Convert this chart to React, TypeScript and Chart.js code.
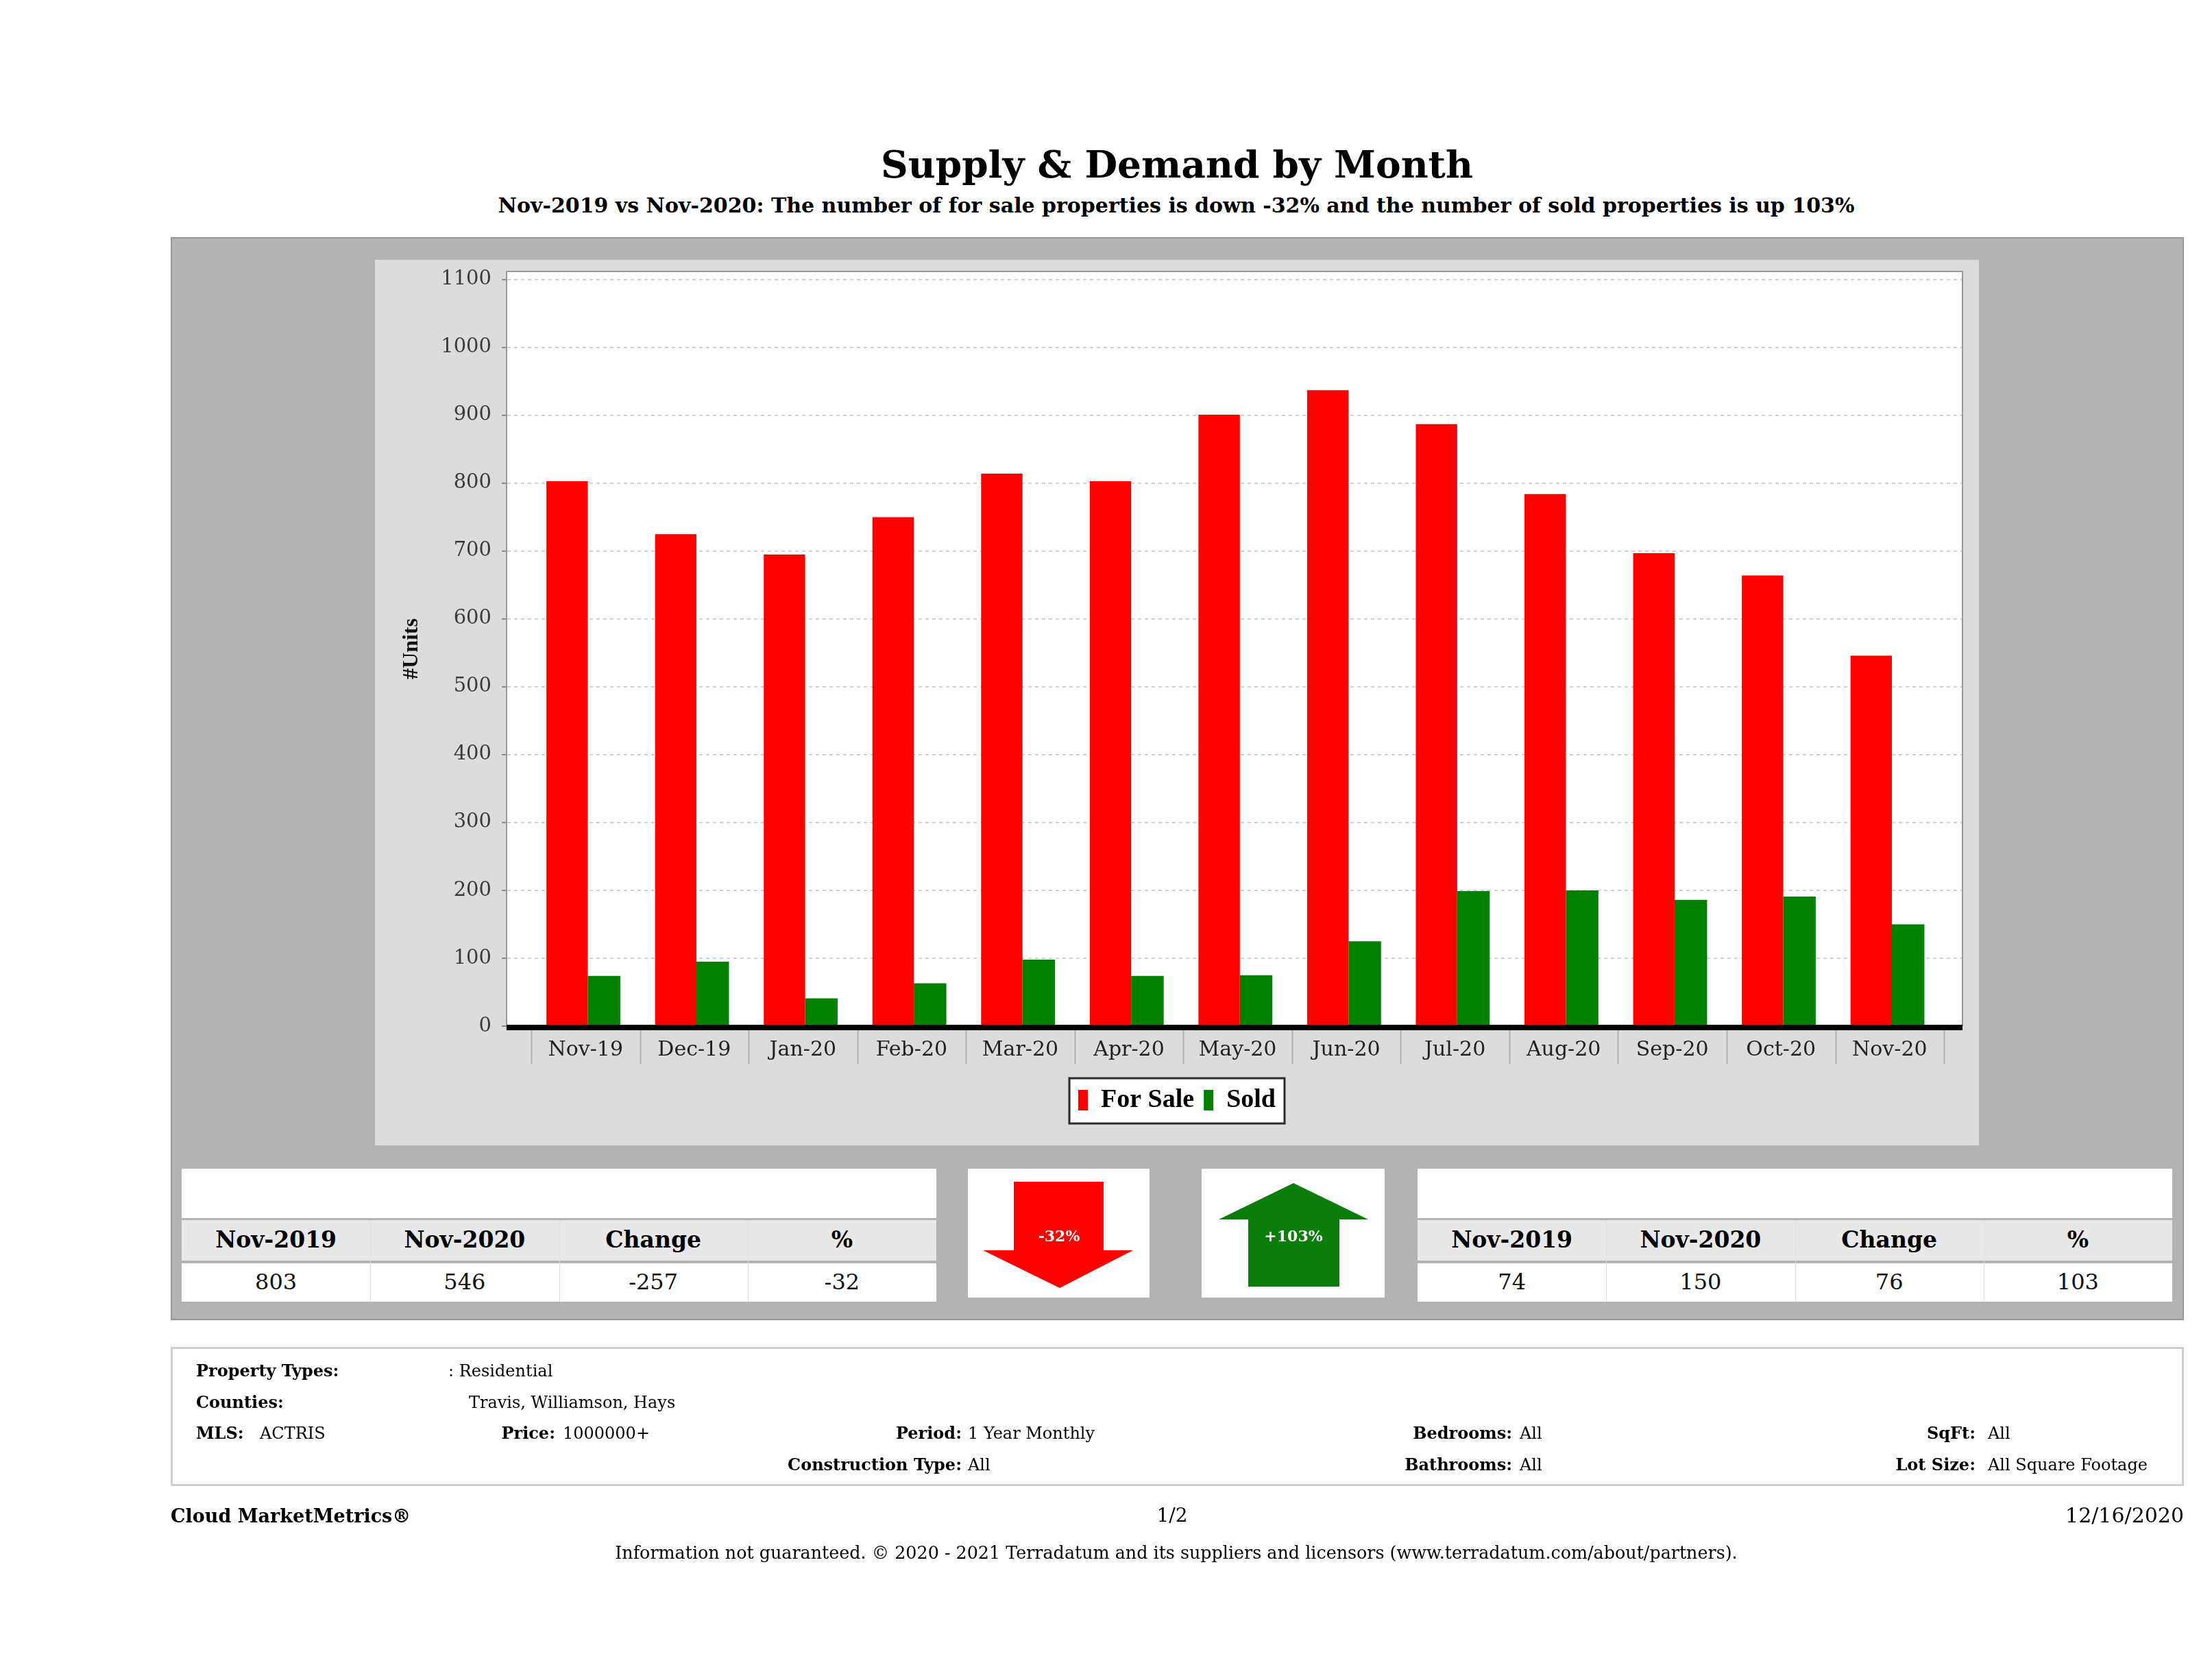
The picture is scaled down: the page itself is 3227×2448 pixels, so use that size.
import React, { useEffect, useRef } from "react";
import { Chart, registerables } from "chart.js";

Chart.register(...registerables);

// ---------- data ----------
const categories = ["Nov-19", "Dec-19", "Jan-20", "Feb-20", "Mar-20", "Apr-20", "May-20", "Jun-20", "Jul-20", "Aug-20", "Sep-20", "Oct-20", "Nov-20"];
const forSale = [803, 725, 695, 750, 814, 803, 901, 937, 887, 784, 697, 664, 546];
const sold = [74, 95, 41, 63, 98, 74, 75, 125, 199, 200, 186, 191, 150];
const seriesNames = ["For Sale", "Sold"];
const seriesColors = ["#ff0000", "#008000"];
const yStep = 100;
const yMax = 1112;

const summaryHeaders = ["Nov-2019", "Nov-2020", "Change", "%"];
const forSaleSummary = ["803", "546", "-257", "-32"];
const soldSummary = ["74", "150", "76", "103"];
const forSaleChangeLabel = "-32%";
const soldChangeLabel = "+103%";

// ---------- helpers ----------
function T(props: any) {
  const { x, y, size, bold = false, align = "left", color = "#000", family = "'DejaVu Serif', serif", children } = props;
  const style: any = {
    position: "absolute",
    top: y - 0.846 * size,
    fontSize: size,
    lineHeight: `${size}px`,
    fontWeight: bold ? 700 : 400,
    color,
    fontFamily: family,
    whiteSpace: "nowrap",
  };
  if (align === "left") style.left = x;
  else if (align === "center") {
    style.left = x - 2000;
    style.width = 4000;
    style.textAlign = "center";
  } else {
    style.left = x - 4000;
    style.width = 4000;
    style.textAlign = "right";
  }
  return <div style={style}>{children}</div>;
}

function Box(props: any) {
  const { x, y, w, h, bg, border } = props;
  return (
    <div
      style={{
        position: "absolute",
        left: x,
        top: y,
        width: w,
        height: h,
        background: bg,
        border: border || "none",
        boxSizing: "border-box",
      }}
    />
  );
}

function SummaryTable(props: any) {
  const { x0, x1, values } = props;
  const W = x1 - x0;
  const colW = W / 4;
  return (
    <>
      <Box x={x0} y={1705} w={W} h={72} bg="#fff" />
      <Box x={x0} y={1780} w={W} h={59} bg="#e8e8e8" />
      <Box x={x0} y={1843} w={W} h={56} bg="#fff" />
      {[1, 2, 3].map((c) => (
        <Box key={"d" + c} x={x0 + c * colW} y={1780} w={1} h={119} bg="#dedede" />
      ))}
      {summaryHeaders.map((h, i) => (
        <T key={"h" + i} x={x0 + colW * (i + 0.5)} y={1820} size={33} bold align="center">
          {h}
        </T>
      ))}
      {values.map((v: string, i: number) => (
        <T key={"v" + i} x={x0 + colW * (i + 0.5)} y={1881} size={32} align="center" color="#111">
          {v}
        </T>
      ))}
    </>
  );
}

// ---------- chart ----------
const CW = 2340;
const CH = 1292;

function SupplyDemandChart() {
  const ref = useRef<HTMLCanvasElement | null>(null);
  useEffect(() => {
    const canvas = ref.current;
    if (!canvas) return;

    const framePlugin = {
      id: "framePlugin",
      beforeDraw(chart: any) {
        const { ctx, chartArea: a } = chart;
        ctx.save();
        ctx.fillStyle = "#dcdcdc";
        ctx.fillRect(0, 0, chart.width, chart.height);
        ctx.fillStyle = "#ffffff";
        ctx.fillRect(a.left, a.top, a.right - a.left, a.bottom - a.top);
        const lg = chart.legend;
        if (lg && lg.legendHitBoxes && lg.legendHitBoxes.length) {
          const hb = lg.legendHitBoxes;
          const last = hb[hb.length - 1];
          const l = hb[0].left - 13;
          const r = last.left + last.width + 13;
          const t = hb[0].top - 13;
          const b = hb[0].top + hb[0].height + 15;
          ctx.fillStyle = "#ffffff";
          ctx.fillRect(l, t, r - l, b - t);
          ctx.strokeStyle = "#2a2a2a";
          ctx.lineWidth = 3;
          ctx.strokeRect(l, t, r - l, b - t);
        }
        ctx.restore();
      },
      afterDatasetsDraw(chart: any) {
        const { ctx, chartArea: a } = chart;
        const xs = chart.scales.x;
        ctx.save();
        ctx.strokeStyle = "#9a9a9a";
        ctx.lineWidth = 2;
        ctx.beginPath();
        ctx.moveTo(a.left, a.top);
        ctx.lineTo(a.right, a.top);
        ctx.lineTo(a.right, a.bottom);
        ctx.stroke();
        // category separators below the axis
        ctx.strokeStyle = "#b0b0b0";
        ctx.lineWidth = 2;
        for (let i = 0; i <= categories.length; i++) {
          const px = Math.round(xs.getPixelForValue(i - 0.5)) + 0.5;
          ctx.beginPath();
          ctx.moveTo(px, a.bottom + 6);
          ctx.lineTo(px, a.bottom + 55);
          ctx.stroke();
        }
        // thick black axis line
        ctx.strokeStyle = "#000";
        ctx.lineWidth = 8;
        ctx.beginPath();
        ctx.moveTo(a.left, a.bottom + 2);
        ctx.lineTo(a.right, a.bottom + 2);
        ctx.stroke();
        ctx.restore();
      },
    };

    const chart = new Chart(canvas, {
      type: "bar",
      data: {
        datasets: [
          {
            label: seriesNames[0],
            data: forSale.map((v, i) => ({ x: i, y: v })),
            backgroundColor: seriesColors[0],
            borderWidth: 0,
            categoryPercentage: 0.68,
            barPercentage: 1.12,
          },
          {
            label: seriesNames[1],
            data: sold.map((v, i) => ({ x: i, y: v })),
            backgroundColor: seriesColors[1],
            borderWidth: 0,
            categoryPercentage: 0.68,
            barPercentage: 0.88,
          },
        ],
      },
      options: {
        responsive: false,
        maintainAspectRatio: false,
        animation: false,
        devicePixelRatio: 1,
        layout: { padding: { left: 24, right: 24, top: 17, bottom: 37 } },
        scales: {
          x: {
            type: "linear",
            min: -0.727,
            max: 12.67,
            offset: false,
            afterBuildTicks: (s: any) => {
              s.ticks = categories.map((_, i) => ({ value: i }));
            },
            afterFit: (s: any) => {
              s.height = 75;
              s.paddingLeft = 0;
              s.paddingRight = 0;
            },
            ticks: {
              autoSkip: false,
              maxRotation: 0,
              minRotation: 0,
              padding: 9,
              color: "#222",
              font: { family: "'DejaVu Serif'", size: 30 },
              callback: (v: any) => categories[v] ?? "",
            },
            grid: { display: false },
            border: { display: false },
          },
          y: {
            min: 0,
            max: yMax,
            afterFit: (s: any) => {
              s.width = 168;
              s.paddingTop = 0;
              s.paddingBottom = 0;
            },
            ticks: {
              stepSize: yStep,
              includeBounds: false,
              padding: 15,
              color: "#3a3a3a",
              font: { family: "'DejaVu Serif'", size: 29 },
              callback: (v: any) => String(v),
            },
            grid: {
              color: "#d0d0d0",
              lineWidth: 2,
              drawTicks: true,
              tickLength: 7,
              tickColor: "#8a8a8a",
              tickWidth: 2,
            },
            border: { display: true, color: "#9a9a9a", width: 2, dash: [5, 5] },
            title: {
              display: true,
              text: "#Units",
              color: "#111",
              font: { family: "'Liberation Serif'", weight: "bold", size: 32 },
              padding: { top: 11, bottom: 0 },
            },
          },
        },
        plugins: {
          legend: {
            position: "bottom",
            labels: {
              boxWidth: 14,
              boxHeight: 30,
              padding: 14,
              color: "#000",
              font: { family: "'Liberation Serif'", weight: "bold", size: 38 },
            },
          },
          tooltip: { enabled: false },
        },
      },
      plugins: [framePlugin],
    } as any);
    return () => chart.destroy();
  }, []);
  return <canvas ref={ref} width={CW} height={CH} style={{ width: CW, height: CH, display: "block" }} />;
}

// ---------- page ----------
export default function App() {
  return (
    <div
      style={{
        position: "fixed",
        left: 0,
        top: 0,
        width: 3227,
        height: 2448,
        background: "#fff",
        overflow: "hidden",
        fontFamily: "'DejaVu Serif', serif",
      }}
    >
      <T x={1717} y={259} size={55} bold align="center">
        Supply &amp; Demand by Month
      </T>
      <T x={1716} y={310} size={30} bold align="center">
        Nov-2019 vs Nov-2020: The number of for sale properties is down -32% and the number of sold properties is up 103%
      </T>

      {/* outer gray panel */}
      <Box x={249} y={346} w={2937} h={1580} bg="#b3b3b3" border="2px solid #999" />

      {/* chart panel */}
      <div style={{ position: "absolute", left: 547, top: 379, width: CW, height: CH }}>
        <SupplyDemandChart />
      </div>

      {/* summary tables */}
      <SummaryTable x0={265} x1={1366} values={forSaleSummary} />
      <SummaryTable x0={2068} x1={3169} values={soldSummary} />

      {/* arrow boxes */}
      <Box x={1412} y={1705} w={265} h={188} bg="#fff" />
      <Box x={1753} y={1705} w={267} h={188} bg="#fff" />
      <svg
        width={3227}
        height={2448}
        style={{ position: "absolute", left: 0, top: 0, pointerEvents: "none" }}
      >
        <polygon
          points="1479,1724 1610,1724 1610,1824 1653,1824 1546,1879 1434,1824 1479,1824"
          fill="#ff0000"
        />
        <polygon
          points="1887,1726 1996,1779 1954,1779 1954,1877 1821,1877 1821,1779 1778,1779"
          fill="#0b7d0b"
        />
      </svg>
      <T x={1545} y={1811} size={22} bold align="center" color="#fff">
        {forSaleChangeLabel}
      </T>
      <T x={1887} y={1811} size={22} bold align="center" color="#fff">
        {soldChangeLabel}
      </T>

      {/* info box */}
      <Box x={249} y={1965} w={2937} h={203} bg="#fff" border="3px solid #cfcfcf" />
      <T x={286} y={2008} size={24} bold>Property Types:</T>
      <T x={654} y={2008} size={24}>: Residential</T>
      <T x={684} y={2054} size={24}>Travis, Williamson, Hays</T>
      <T x={286} y={2054} size={24} bold>Counties:</T>
      <T x={286} y={2099} size={24} bold>MLS:</T>
      <T x={379} y={2099} size={24}>ACTRIS</T>
      <T x={810} y={2099} size={24} bold align="right">Price:</T>
      <T x={821} y={2099} size={24}>1000000+</T>
      <T x={1403} y={2099} size={24} bold align="right">Period:</T>
      <T x={1412} y={2099} size={24}>1 Year Monthly</T>
      <T x={1403} y={2145} size={24} bold align="right">Construction Type:</T>
      <T x={1412} y={2145} size={24}>All</T>
      <T x={2206} y={2099} size={24} bold align="right">Bedrooms:</T>
      <T x={2217} y={2099} size={24}>All</T>
      <T x={2206} y={2145} size={24} bold align="right">Bathrooms:</T>
      <T x={2217} y={2145} size={24}>All</T>
      <T x={2882} y={2099} size={24} bold align="right">SqFt:</T>
      <T x={2900} y={2099} size={24}>All</T>
      <T x={2882} y={2145} size={24} bold align="right">Lot Size:</T>
      <T x={2900} y={2145} size={24}>All Square Footage</T>

      {/* footer */}
      <T x={249} y={2221} size={27} bold>Cloud MarketMetrics®</T>
      <T x={1710} y={2221} size={28} align="center">1/2</T>
      <T x={3186} y={2221} size={30} align="right">12/16/2020</T>
      <T x={1716} y={2274} size={25.4} align="center">
        Information not guaranteed. © 2020 - 2021 Terradatum and its suppliers and licensors (www.terradatum.com/about/partners).
      </T>
    </div>
  );
}
